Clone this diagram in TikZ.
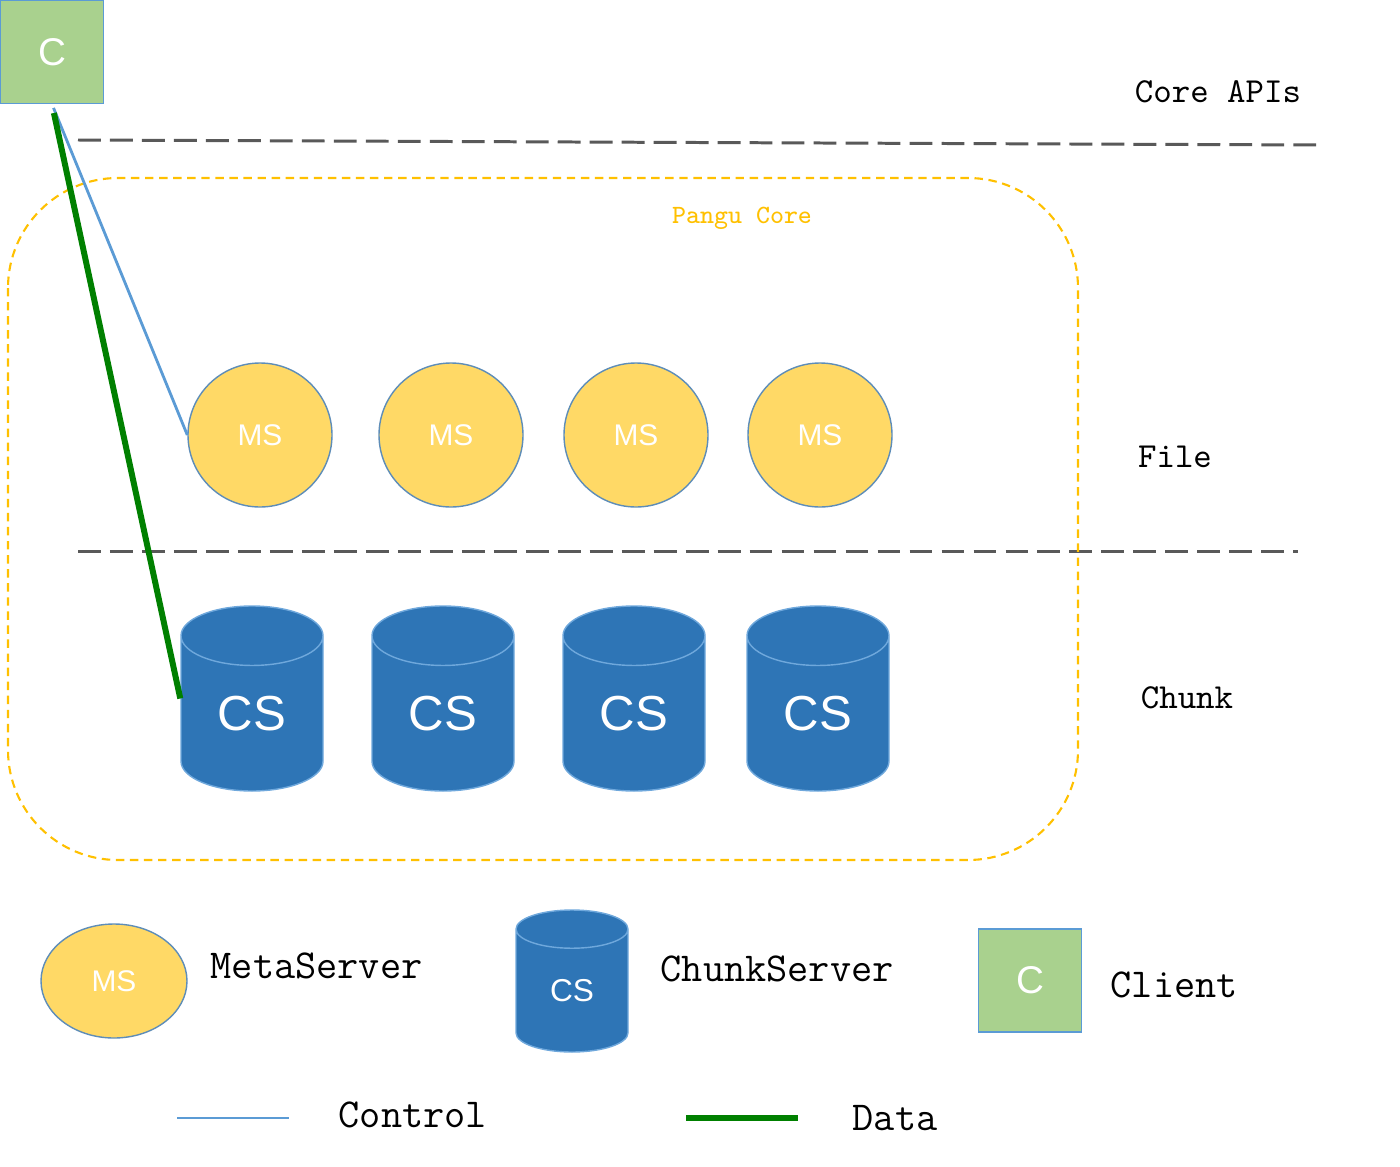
\documentclass[tikz,border=0pt]{standalone}
\usepackage{fontspec}
\newfontfamily\arialfont{Liberation Sans}
\usetikzlibrary{shapes.geometric}

\definecolor{msyellow}{HTML}{FFD966}
\definecolor{msedge}{HTML}{5E8DB8}
\definecolor{csblue}{HTML}{2E75B6}
\definecolor{csedge}{HTML}{6FA8DC}
\definecolor{clientgreen}{HTML}{A9D18E}
\definecolor{ctrlblue}{HTML}{5B9BD5}
\definecolor{datagreen}{HTML}{008000}
\definecolor{coreorange}{HTML}{FFC000}
\definecolor{sepgray}{HTML}{595959}

\begin{document}
\begin{tikzpicture}[
  ms/.style={circle, draw=msedge, fill=msyellow, minimum size=1.44cm, inner sep=0pt,
    text=white, font=\arialfont\fontsize{8.5}{10}\selectfont},
  cs/.style={cylinder, shape border rotate=90, aspect=0.87, draw=csedge, fill=csblue,
    minimum width=1.42cm, minimum height=1.85cm, inner sep=0pt, anchor=shape center,
    text=white, font=\arialfont\fontsize{14}{16}\selectfont},
  client/.style={rectangle, draw=ctrlblue, fill=clientgreen, minimum size=1.03cm,
    inner sep=0pt, text=white, font=\arialfont\fontsize{11}{12}\selectfont},
  layer/.style={font=\ttfamily\fontsize{10}{12}\selectfont},
  legend/.style={anchor=west, inner sep=0pt, font=\ttfamily\fontsize{11.7}{13}\selectfont},
  sep/.style={sepgray, line width=0.85pt, dash pattern=on 6.5pt off 2.6pt},
  control/.style={ctrlblue, line width=0.8pt},
  data/.style={datagreen, line width=1.7pt}
]
\useasboundingbox (0,0) rectangle (14,-11.66);

% Client
\node[client] (client) at (0.52,-0.52) {C};

% Layers
\draw[sep] (0.78,-1.40) -- (13.18,-1.45);
\draw[sep] (0.78,-5.51) -- (12.98,-5.51);
\node[layer] (apis) at (12.18,-0.92) {Core APIs};
\node[layer] (file) at (11.75,-4.57) {File};
\node[layer] (chunk) at (11.87,-6.98) {Chunk};

% Pangu Core
\draw[coreorange, line width=0.6pt, dash pattern=on 2.4pt off 1.6pt, rounded corners=1.1cm]
  (0.08,-1.78) rectangle (10.78,-8.60);
\node[coreorange, font=\ttfamily\fontsize{7.5}{9}\selectfont] (core) at (7.42,-2.18) {Pangu Core};

% MetaServers
\node[ms] (ms1) at (2.60,-4.35) {MS};
\node[ms] (ms2) at (4.51,-4.35) {MS};
\node[ms] (ms3) at (6.36,-4.35) {MS};
\node[ms] (ms4) at (8.20,-4.35) {MS};

% ChunkServers
\node[cs] (cs1) at (2.52,-6.985) {CS};
\node[cs] (cs2) at (4.43,-6.985) {CS};
\node[cs] (cs3) at (6.34,-6.985) {CS};
\node[cs] (cs4) at (8.18,-6.985) {CS};

% Paths
\draw[control, shorten <=0.04cm] (client.south) -- (ms1.west);
\draw[data, shorten <=0.09cm] (client.south) -- (cs1.shape center -| cs1.west);

% Legend
\node[ellipse, draw=msedge, fill=msyellow, minimum width=1.46cm, minimum height=1.14cm,
  inner sep=0pt, text=white, font=\arialfont\fontsize{8.5}{10}\selectfont] (lms) at (1.14,-9.81) {MS};
\node[legend] (lmstext) at (2.10,-9.66) {MetaServer};
\node[cs, minimum width=1.12cm, minimum height=1.42cm, font=\arialfont\fontsize{9}{10}\selectfont]
  (lcs) at (5.72,-9.81) {CS};
\node[legend] (lcstext) at (6.60,-9.69) {ChunkServer};
\node[client] (lclient) at (10.30,-9.805) {C};
\node[legend] (lclienttext) at (11.10,-9.85) {Client};

\draw[control] (1.77,-11.18) -- (2.89,-11.18);
\node[legend] (lcontrol) at (3.38,-11.15) {Control};
\draw[data] (6.86,-11.18) -- (7.98,-11.18);
\node[legend] (ldata) at (8.52,-11.18) {Data};

\end{tikzpicture}
\end{document}
